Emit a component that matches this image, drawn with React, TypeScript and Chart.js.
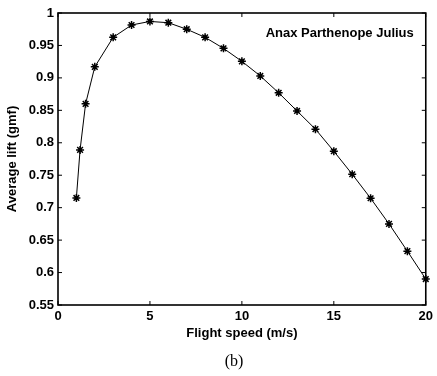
import React, { useEffect, useRef } from "react";
import { Chart, registerables } from "chart.js";

Chart.register(...registerables);

const speeds = [1, 1.2, 1.5, 2, 3, 4, 5, 6, 7, 8, 9, 10, 11, 12, 13, 14, 15, 16, 17, 18, 19, 20];
const lifts = [0.715, 0.789, 0.86, 0.917, 0.9625, 0.9815, 0.987, 0.985, 0.975, 0.9625, 0.9455, 0.9255, 0.903, 0.877, 0.849, 0.821, 0.787, 0.7515, 0.7145, 0.675, 0.633, 0.59];
const xTicks = [0, 5, 10, 15, 20];
const yTicks = [0.55, 0.6, 0.65, 0.7, 0.75, 0.8, 0.85, 0.9, 0.95, 1];
const seriesLabel = "Anax Parthenope Julius";
const xTitle = "Flight speed (m/s)";
const yTitle = "Average lift (gmf)";
const caption = "(b)";

const FONT = "'Liberation Sans', Arial, sans-serif";

const framePlugin = {
  id: "framePlugin",
  afterDraw(chart: any) {
    const { ctx, chartArea } = chart;
    const xs = chart.scales.x;
    const ys = chart.scales.y;
    const { left, right, top, bottom } = chartArea;
    ctx.save();
    ctx.strokeStyle = "#000";
    ctx.lineWidth = 1.6;
    ctx.strokeRect(left, top, right - left, bottom - top);
    ctx.lineWidth = 1;
    const tl = 4;
    ctx.beginPath();
    xTicks.forEach((v) => {
      const px = xs.getPixelForValue(v);
      ctx.moveTo(px, bottom);
      ctx.lineTo(px, bottom - tl);
      ctx.moveTo(px, top);
      ctx.lineTo(px, top + tl);
    });
    yTicks.forEach((v) => {
      const py = ys.getPixelForValue(v);
      ctx.moveTo(left, py);
      ctx.lineTo(left + tl, py);
      ctx.moveTo(right, py);
      ctx.lineTo(right - tl, py);
    });
    ctx.stroke();
    // annotation
    ctx.fillStyle = "#000";
    ctx.font = `bold 13px ${FONT}`;
    ctx.textAlign = "right";
    ctx.textBaseline = "middle";
    ctx.fillText(seriesLabel, right - 12, top + 20);
    // caption
    ctx.font = `16px 'Liberation Serif', 'Times New Roman', serif`;
    ctx.textAlign = "center";
    ctx.fillText(caption, 234, 362);
    ctx.restore();
  },
};

export default function App() {
  const ref = useRef<HTMLCanvasElement | null>(null);
  useEffect(() => {
    if (!ref.current) return;
    const chart = new Chart(ref.current, {
      type: "scatter",
      data: {
        datasets: [
          {
            label: seriesLabel,
            data: speeds.map((s, i) => ({ x: s, y: lifts[i] })),
            showLine: true,
            borderColor: "#000",
            backgroundColor: "#000",
            borderWidth: 1,
            pointStyle: "star",
            pointRadius: 4,
            pointBorderWidth: 1.5,
            pointBorderColor: "#000",
            clip: false,
          } as any,
        ],
      },
      options: {
        animation: false,
        responsive: true,
        maintainAspectRatio: false,
        layout: { padding: { top: 13, right: 8, left: 0, bottom: 0 } },
        plugins: {
          legend: { display: false },
          tooltip: { enabled: false },
        },
        scales: {
          x: {
            type: "linear",
            min: 0,
            max: 20,
            afterFit: (s: any) => {
              s.height = 71;
            },
            afterBuildTicks: (s: any) => {
              s.ticks = xTicks.map((v) => ({ value: v }));
            },
            grid: { display: false, drawTicks: false },
            border: { display: false },
            ticks: {
              color: "#000",
              padding: 4,
              font: { family: FONT, size: 13, weight: "bold" },
              maxRotation: 0,
              callback: (v: any) => String(v),
            },
            title: {
              display: true,
              text: xTitle,
              color: "#000",
              font: { family: FONT, size: 13, weight: "bold" },
              padding: { top: 0, bottom: 35 },
            },
          },
          y: {
            type: "linear",
            min: 0.55,
            max: 1,
            afterFit: (s: any) => {
              s.width = 58;
            },
            afterBuildTicks: (s: any) => {
              s.ticks = yTicks.map((v) => ({ value: v }));
            },
            grid: { display: false, drawTicks: false },
            border: { display: false },
            ticks: {
              color: "#000",
              padding: 4,
              font: { family: FONT, size: 13, weight: "bold" },
              callback: (v: any) => String(Math.round(v * 100) / 100),
            },
            title: {
              display: true,
              text: yTitle,
              color: "#000",
              font: { family: FONT, size: 13, weight: "bold" },
              padding: { top: 5, bottom: 0 },
            },
          },
        },
      },
      plugins: [framePlugin],
    });
    return () => chart.destroy();
  }, []);
  return (
    <div style={{ position: "fixed", left: 0, top: 0, width: 437, height: 376, background: "#fff" }}>
      <canvas ref={ref} />
    </div>
  );
}
